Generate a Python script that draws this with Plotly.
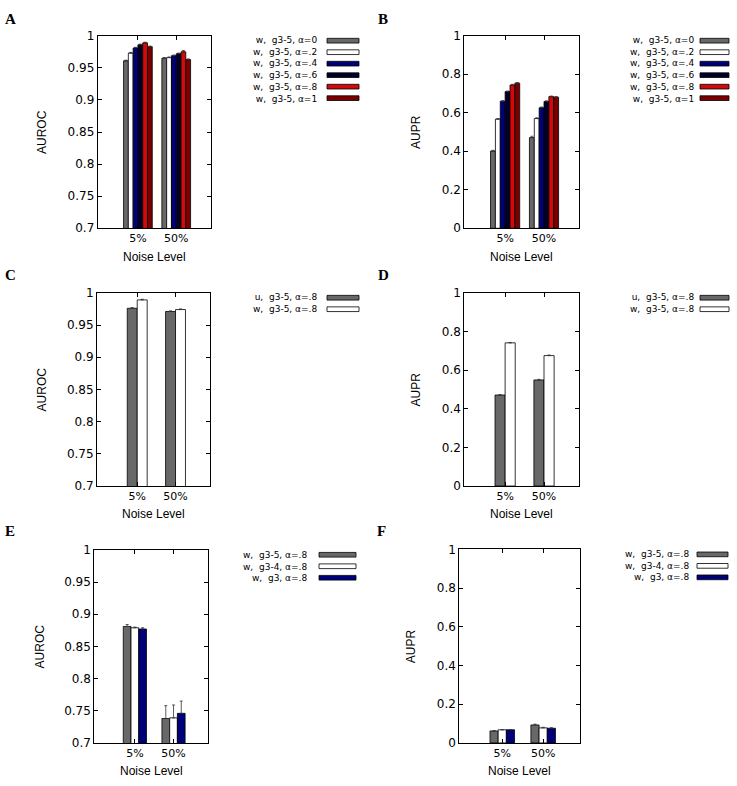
import plotly.graph_objects as go

W, H = 737, 786

categories = ["5%", "50%"]

# Panel A: AUROC, w, g3-5, varying alpha
a_names = ["w,  g3-5, α=0", "w,  g3-5, α=.2", "w,  g3-5, α=.4",
           "w,  g3-5, α=.6", "w,  g3-5, α=.8", "w,  g3-5, α=1"]
a_vals = [[0.961, 0.965], [0.973, 0.966], [0.981, 0.969],
          [0.986, 0.972], [0.989, 0.975], [0.983, 0.963]]
a_err = [[0.001, 0.001], [0.001, 0.001], [0.001, 0.001],
         [0.001, 0.001], [0.001, 0.002], [0.001, 0.001]]

# Panel B: AUPR
b_vals = [[0.401, 0.471], [0.567, 0.570], [0.660, 0.626],
          [0.710, 0.659], [0.744, 0.684], [0.754, 0.681]]
b_err = [[0.004, 0.007], [0.003, 0.004], [0.003, 0.004],
         [0.003, 0.003], [0.004, 0.003], [0.003, 0.003]]

# Panel C / D: u vs w
c_names = ["u,  g3-5, α=.8", "w,  g3-5, α=.8"]
c_vals = [[0.976, 0.971], [0.989, 0.974]]
c_err = [[0.001, 0.001], [0.001, 0.001]]
d_vals = [[0.471, 0.549], [0.741, 0.675]]
d_err = [[0.002, 0.003], [0.002, 0.003]]

# Panel E / F: neighbourhoods
e_names = ["w,  g3-5, α=.8", "w,  g3-4, α=.8", "w,  g3, α=.8"]
e_vals = [[0.881, 0.738], [0.879, 0.739], [0.877, 0.746]]
e_err = [[0.003, 0.020], [0.001, 0.020], [0.002, 0.019]]
f_vals = [[0.062, 0.093], [0.068, 0.078], [0.068, 0.076]]
f_err = [[0.002, 0.004], [0.001, 0.003], [0.001, 0.003]]

auroc_ticks = [0.7, 0.75, 0.8, 0.85, 0.9, 0.95, 1]
auroc_text = ["0.7", "0.75", "0.8", "0.85", "0.9", "0.95", "1"]
aupr_ticks = [0, 0.2, 0.4, 0.6, 0.8, 1]
aupr_text = ["0", "0.2", "0.4", "0.6", "0.8", "1"]

colors6 = ["#686868", "#ffffff", "#000078", "#00002a", "#d20a0a", "#7a0000"]
colors2 = ["#686868", "#ffffff"]
colors3 = ["#686868", "#ffffff", "#000078"]


def px(x):
    return x / W


def py(y):
    return 1 - y / H


# panel geometry (pixels): left, right, top, bottom
panels = [
    dict(key="A", box=(97.7, 210.7, 29.3, 225.3), names=a_names, vals=a_vals, err=a_err,
         colors=colors6, bw=0.125, ytype="roc", leg=(318, 327, 359), ytitle_x=42),
    dict(key="B", box=(464.3, 579, 29.3, 225.3), names=a_names, vals=b_vals, err=b_err,
         colors=colors6, bw=0.125, ytype="pr", leg=(695, 700, 729), ytitle_x=416),
    dict(key="C", box=(97, 210, 291, 487.7), names=c_names, vals=c_vals, err=c_err,
         colors=colors2, bw=0.26, ytype="roc", leg=(318, 327, 359), ytitle_x=42),
    dict(key="D", box=(464.3, 579, 291, 487.7), names=c_names, vals=d_vals, err=d_err,
         colors=colors2, bw=0.26, ytype="pr", leg=(695, 700, 729), ytitle_x=416),
    dict(key="E", box=(94.3, 208.3, 552.7, 749.3), names=e_names, vals=e_vals, err=e_err,
         colors=colors3, bw=0.2, ytype="roc", leg=(308, 319, 356), ytitle_x=40),
    dict(key="F", box=(459.3, 580, 552.3, 749.3), names=e_names, vals=f_vals, err=f_err,
         colors=colors3, bw=0.2, ytype="pr", leg=(690, 697, 728), ytitle_x=411),
]

letter_pos = {"A": (10, 12), "B": (383, 12), "C": (10, 273), "D": (383, 273),
              "E": (10, 533), "F": (381, 533)}

LEG_FS = 9
LEG_STEP = 1.3 * LEG_FS

fig = go.Figure()
annotations = []
shapes = []
layout = {}

for idx, p in enumerate(panels):
    n = idx + 1
    xa = "x" if n == 1 else f"x{n}"
    ya = "y" if n == 1 else f"y{n}"
    xkey = "xaxis" if n == 1 else f"xaxis{n}"
    ykey = "yaxis" if n == 1 else f"yaxis{n}"
    l, r, t, b = p["box"]
    k = len(p["names"])
    bw = p["bw"]
    for i in range(k):
        fig.add_trace(go.Bar(
            x=categories, y=p["vals"][i], xaxis=xa, yaxis=ya,
            width=bw, offset=(i - k / 2) * bw,
            marker=dict(color=p["colors"][i], line=dict(color="#000000", width=0.8)),
            error_y=dict(type="data", symmetric=False, array=p["err"][i],
                         arrayminus=[0] * len(categories),
                         color="#333333", thickness=0.8, width=1.5),
            showlegend=False, name=p["names"][i],
        ))
    if p["ytype"] == "roc":
        yr, tv, tt = [0.7, 1.0], auroc_ticks, auroc_text
        ytitle = "AUROC"
    else:
        yr, tv, tt = [0, 1.0], aupr_ticks, aupr_text
        ytitle = "AUPR"
    layout[xkey] = dict(
        domain=[px(l), px(r)], anchor=ya, type="category",
        categoryorder="array", categoryarray=categories,
        range=[-1.05, 1.9], showline=True, mirror="ticks", linecolor="#000",
        linewidth=1, ticks="inside", ticklen=4, tickcolor="#000",
        showgrid=False, zeroline=False,
        tickfont=dict(family="DejaVu Sans", size=11, color="#000"),
    )
    layout[ykey] = dict(
        domain=[py(b), py(t)], anchor=xa, range=yr,
        tickvals=tv, ticktext=tt, showline=True, mirror="ticks",
        linecolor="#000", linewidth=1, ticks="inside", ticklen=4,
        tickcolor="#000", showgrid=False, zeroline=False,
        tickfont=dict(family="DejaVu Sans", size=12, color="#000"),
    )
    # axis titles
    annotations.append(dict(
        text=ytitle, x=px(p["ytitle_x"]), y=py((t + b) / 2), xref="paper", yref="paper",
        textangle=-90, showarrow=False, xanchor="center", yanchor="middle",
        font=dict(family="Liberation Sans", size=12, color="#000")))
    annotations.append(dict(
        text="Noise Level", x=px((l + r) / 2), y=py(b + 29), xref="paper", yref="paper",
        showarrow=False, xanchor="center", yanchor="middle",
        font=dict(family="Liberation Sans", size=12, color="#000")))
    # panel letter
    lx, ly = letter_pos[p["key"]]
    annotations.append(dict(
        text=f"<b>{p['key']}</b>", x=px(lx), y=py(ly), xref="paper", yref="paper",
        showarrow=False, xanchor="center", yanchor="middle",
        font=dict(family="Liberation Serif", size=15, color="#000")))
    # key (legend): text right-aligned in one block, swatches to the right
    tr, s0, s1 = p["leg"]
    first = t + 5
    mid = first + (k - 1) / 2 * LEG_STEP
    annotations.append(dict(
        text="<br>".join(p["names"]), x=px(tr), y=py(mid), xref="paper", yref="paper",
        showarrow=False, xanchor="right", yanchor="middle", align="right",
        borderpad=0,
        font=dict(family="DejaVu Sans", size=LEG_FS, color="#000")))
    for i in range(k):
        yy = first + i * LEG_STEP
        shapes.append(dict(
            type="rect", xref="paper", yref="paper",
            x0=px(s0), x1=px(s1), y0=py(yy + 2.4), y1=py(yy - 2.4),
            fillcolor=p["colors"][i], line=dict(color="#000", width=0.8)))

fig.update_layout(
    width=W, height=H, margin=dict(l=0, r=0, t=0, b=0),
    paper_bgcolor="#ffffff", plot_bgcolor="#ffffff",
    barmode="overlay", showlegend=False,
    annotations=annotations, shapes=shapes,
    **layout,
)

fig.write_html(
    "out.html",
    config={"displayModeBar": False},
    post_script="document.body.style.margin='0px';document.body.style.overflow='hidden';",
)
